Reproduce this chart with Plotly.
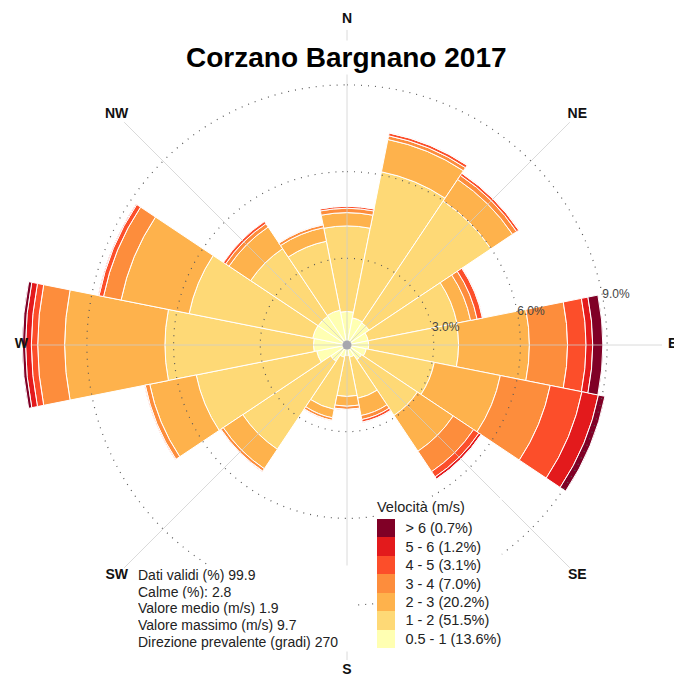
import numpy as np
import plotly.graph_objects as go

# ---- data -------------------------------------------------------------
directions = ["N", "NNE", "NE", "ENE", "E", "ESE", "SE", "SSE",
              "S", "SSW", "SW", "WSW", "W", "WNW", "NW", "NNW"]

speed_bins = ["0.5 - 1", "1 - 2", "2 - 3", "3 - 4", "4 - 5", "5 - 6", "> 6"]

# frequency (%) per direction for each wind-speed class
freq_05_1 = [1.16, 0.96, 0.92, 0.75, 0.75, 0.68, 0.61, 0.43, 0.36, 0.43, 0.68, 1.07, 1.16, 1.21, 1.20, 1.23]
freq_1_2 = [2.96, 5.15, 5.07, 3.13, 3.11, 2.40, 2.32, 1.45, 1.42, 1.84, 3.66, 4.25, 5.14, 4.36, 2.81, 2.43]
freq_2_3 = [0.46, 1.14, 0.90, 0.48, 2.45, 2.33, 1.49, 0.61, 0.34, 0.30, 0.81, 1.64, 3.47, 2.40, 0.90, 0.48]
freq_3_4 = [0.15, 0.13, 0.17, 0.23, 1.32, 1.76, 0.85, 0.14, 0.11, 0.09, 0.10, 0.16, 0.93, 0.62, 0.14, 0.10]
freq_4_5 = [0.07, 0.10, 0.09, 0.19, 0.64, 1.12, 0.22, 0.09, 0.02, 0.02, 0.02, 0.03, 0.22, 0.16, 0.09, 0.02]
freq_5_6 = [0.01, 0.01, 0.01, 0.02, 0.23, 0.58, 0.09, 0.02, 0.00, 0.00, 0.00, 0.00, 0.20, 0.03, 0.00, 0.00]
freq_6 = [0.00, 0.00, 0.00, 0.00, 0.35, 0.23, 0.01, 0.00, 0.00, 0.00, 0.00, 0.00, 0.11, 0.00, 0.00, 0.00]

bin_colors = ["#FFFFB2", "#FED976", "#FEB24C", "#FD8D3C", "#FC4E2A", "#E31A1C", "#800026"]

compass_labels = ["N", "NE", "E", "SE", "S", "SW", "W", "NW"]
grid_pct = [3, 6, 9]

stats_labels = ["Dati validi (%)", "Calme (%):", "Valore medio (m/s)",
                "Valore massimo (m/s)", "Direzione prevalente (gradi)"]
stats_values = ["99.9", "2.8", "1.9", "9.7", "270"]

title_text = "Corzano Bargnano 2017"
legend_title = "Velocità (m/s)"

# ---- geometry ----------------------------------------------------------
W, H = 674, 678
cx, cy = 347, 345          # pole position (px)
r_max = 11.3               # radial range (%)
R_px = 326.6               # polar radius (px)
label_r = 11.27            # compass label radius (%)
spoke_r = 10.9             # spoke length (%)

FONT = "Liberation Sans, Arial, sans-serif"

sector = 360 / len(directions)
theta = [i * sector for i in range(len(directions))]
freqs = [freq_05_1, freq_1_2, freq_2_3, freq_3_4, freq_4_5, freq_5_6, freq_6]

fig = go.Figure()

# stacked wind-rose sectors
for name, vals, col in zip(speed_bins, freqs, bin_colors):
    fig.add_trace(go.Barpolar(
        r=vals, theta=theta, width=[sector] * len(theta), name=name,
        marker=dict(color=col, line=dict(color="white", width=1)),
        showlegend=False, hoverinfo="skip"))

# dotted percentage rings drawn over the sectors
ring_theta = np.linspace(0, 360, 721)
for g in grid_pct:
    fig.add_trace(go.Scatterpolar(
        r=[g] * len(ring_theta), theta=ring_theta, mode="lines",
        line=dict(color="#5a5a5a", width=1.2, dash="1px,6px"),
        hoverinfo="skip", showlegend=False))

# compass spokes
comp_theta = [i * 360 / len(compass_labels) for i in range(len(compass_labels))]
sp_r, sp_t = [], []
for t in comp_theta:
    sp_r += [0, spoke_r, None]
    sp_t += [t, t, None]
fig.add_trace(go.Scatterpolar(
    r=sp_r, theta=sp_t, mode="lines",
    line=dict(color="rgba(205,205,205,0.75)", width=1),
    hoverinfo="skip", showlegend=False))

# centre point
fig.add_trace(go.Scatterpolar(
    r=[0], theta=[0], mode="markers",
    marker=dict(size=9, color="#a7a7ae"),
    hoverinfo="skip", showlegend=False))

# ring labels
fig.add_trace(go.Scatterpolar(
    r=grid_pct, theta=[79] * len(grid_pct), mode="text",
    text=[f"{g:.1f}%" for g in grid_pct], textposition="middle right",
    textfont=dict(family=FONT, size=12, color="#444444"),
    cliponaxis=False, hoverinfo="skip", showlegend=False))

# compass labels
fig.add_trace(go.Scatterpolar(
    r=[label_r] * len(compass_labels), theta=comp_theta, mode="text",
    text=[f"<b>{d}</b>" for d in compass_labels], textposition="middle center",
    textfont=dict(family=FONT, size=14, color="#111111"),
    cliponaxis=False, hoverinfo="skip", showlegend=False))

# speed-class key as a discrete colour bar
n = len(bin_colors)
cscale = []
for k, c in enumerate(bin_colors):
    cscale += [[k / n, c], [(k + 1) / n, c]]
key_text = [f"{name} ({sum(vals):.1f}%)" for name, vals in zip(speed_bins, freqs)]
fig.add_trace(go.Scatterpolar(
    r=[0] * n, theta=[0] * n, mode="markers",
    marker=dict(color=list(range(n)), colorscale=cscale, cmin=-0.5, cmax=n - 0.5,
                size=1, opacity=0, showscale=True,
                colorbar=dict(
                    title=dict(text=legend_title, side="top",
                               font=dict(family=FONT, size=14.5, color="#222222")),
                    tickvals=list(range(n)), ticktext=key_text,
                    tickfont=dict(family=FONT, size=14.5, color="#222222"),
                    ticks="outside", ticklen=8, tickcolor="rgba(0,0,0,0)",
                    thickness=18, thicknessmode="pixels",
                    len=150, lenmode="pixels",
                    x=377 / W, xanchor="left", xpad=0,
                    y=1 - 648 / H, yanchor="bottom", ypad=0,
                    outlinewidth=0, bgcolor="white", borderwidth=0)),
    hoverinfo="skip", showlegend=False))

# summary statistics, one annotation per line on a shared white box
stats_lines = [f"{l} {v}" for l, v in zip(stats_labels, stats_values)]
stats_ann = [
    dict(text=line, x=136 / W, y=1 - (575 + 16.7 * i) / H, width=216,
         xref="paper", yref="paper", xanchor="left", yanchor="middle",
         align="left", showarrow=False, bgcolor="white", borderpad=1,
         font=dict(family=FONT, size=14, color="#222222"))
    for i, line in enumerate(stats_lines)
]

fig.update_layout(
    width=W, height=H,
    margin=dict(l=0, r=0, t=0, b=0),
    paper_bgcolor="white", plot_bgcolor="white",
    font=dict(family=FONT),
    polar=dict(
        domain=dict(x=[(cx - R_px) / W, (cx + R_px) / W],
                    y=[1 - (cy + R_px) / H, 1 - (cy - R_px) / H]),
        bgcolor="white",
        barmode="stack",
        angularaxis=dict(rotation=90, direction="clockwise", showgrid=False,
                         showline=False, showticklabels=False, ticks=""),
        radialaxis=dict(range=[0, r_max], visible=False),
    ),
    annotations=[
        dict(text=f"<b>{title_text}</b>", x=cx / W, y=1 - 57 / H,
             xref="paper", yref="paper", xanchor="center", yanchor="middle",
             showarrow=False, bgcolor="white",
             font=dict(family=FONT, size=28, color="#000000")),
    ] + stats_ann,
)

fig.write_html("out.html")
